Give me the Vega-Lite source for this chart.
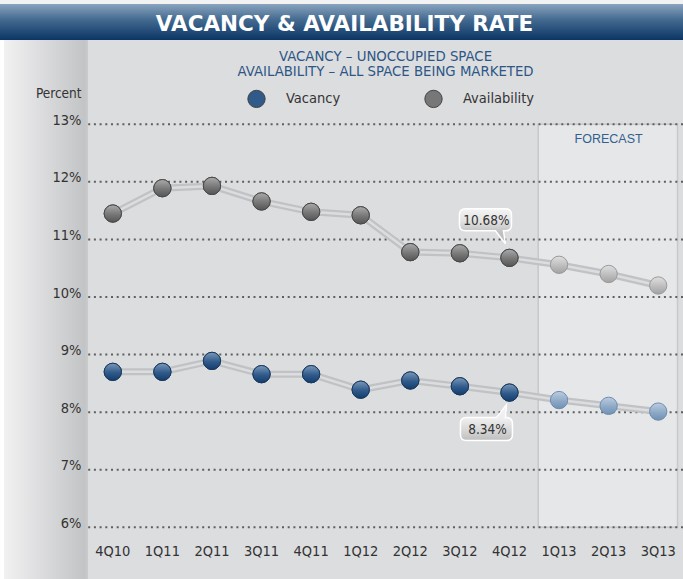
{
  "$schema": "https://vega.github.io/schema/vega-lite/v6.json",
  "padding": 0,
  "spacing": 0,
  "background": "#dcdddf",
  "config": {
    "view": {"stroke": null},
    "font": "Liberation Sans Narrow, DejaVu Sans Condensed, sans-serif"
  },
  "datasets": {
    "rates": [
      {"quarter": "4Q10", "series": "Vacancy", "rate": 8.70, "phase": "Actual"},
      {"quarter": "1Q11", "series": "Vacancy", "rate": 8.70, "phase": "Actual"},
      {"quarter": "2Q11", "series": "Vacancy", "rate": 8.89, "phase": "Actual"},
      {"quarter": "3Q11", "series": "Vacancy", "rate": 8.66, "phase": "Actual"},
      {"quarter": "4Q11", "series": "Vacancy", "rate": 8.66, "phase": "Actual"},
      {"quarter": "1Q12", "series": "Vacancy", "rate": 8.39, "phase": "Actual"},
      {"quarter": "2Q12", "series": "Vacancy", "rate": 8.55, "phase": "Actual"},
      {"quarter": "3Q12", "series": "Vacancy", "rate": 8.45, "phase": "Actual"},
      {"quarter": "4Q12", "series": "Vacancy", "rate": 8.34, "phase": "Actual"},
      {"quarter": "1Q13", "series": "Vacancy", "rate": 8.21, "phase": "Forecast"},
      {"quarter": "2Q13", "series": "Vacancy", "rate": 8.11, "phase": "Forecast"},
      {"quarter": "3Q13", "series": "Vacancy", "rate": 8.01, "phase": "Forecast"},
      {"quarter": "4Q10", "series": "Availability", "rate": 11.45, "phase": "Actual"},
      {"quarter": "1Q11", "series": "Availability", "rate": 11.89, "phase": "Actual"},
      {"quarter": "2Q11", "series": "Availability", "rate": 11.93, "phase": "Actual"},
      {"quarter": "3Q11", "series": "Availability", "rate": 11.66, "phase": "Actual"},
      {"quarter": "4Q11", "series": "Availability", "rate": 11.48, "phase": "Actual"},
      {"quarter": "1Q12", "series": "Availability", "rate": 11.42, "phase": "Actual"},
      {"quarter": "2Q12", "series": "Availability", "rate": 10.78, "phase": "Actual"},
      {"quarter": "3Q12", "series": "Availability", "rate": 10.76, "phase": "Actual"},
      {"quarter": "4Q12", "series": "Availability", "rate": 10.68, "phase": "Actual"},
      {"quarter": "1Q13", "series": "Availability", "rate": 10.56, "phase": "Forecast"},
      {"quarter": "2Q13", "series": "Availability", "rate": 10.40, "phase": "Forecast"},
      {"quarter": "3Q13", "series": "Availability", "rate": 10.20, "phase": "Forecast"}
    ],
    "callouts": [
      {"quarter": "4Q12", "series": "Availability", "rate": 10.68, "label": "10.68%"},
      {"quarter": "4Q12", "series": "Vacancy", "rate": 8.34, "label": "8.34%"}
    ],
    "gridlines": [
      {"pct": 6}, {"pct": 7}, {"pct": 8}, {"pct": 9}, {"pct": 10}, {"pct": 11}, {"pct": 12}, {"pct": 13}
    ],
    "forecast": [
      {"label": "FORECAST", "from": "1Q13", "to": "3Q13", "middle": "2Q13"}
    ],
    "header": [
      {"title": "VACANCY & AVAILABILITY RATE"}
    ]
  },
  "vconcat": [
    {
      "width": 683,
      "height": 40,
      "view": {
        "stroke": null,
        "fill": {
          "gradient": "linear", "x1": 0, "y1": 0, "x2": 0, "y2": 1,
          "stops": [
            {"offset": 0, "color": "#f2f2f2"},
            {"offset": 0.09, "color": "#f2f2f2"},
            {"offset": 0.1, "color": "#8aa4bf"},
            {"offset": 0.5, "color": "#42698f"},
            {"offset": 1, "color": "#0b3565"}
          ]
        }
      },
      "data": {"name": "header"},
      "mark": {"type": "text", "font": "DejaVu Sans, sans-serif", "fontWeight": "bold", "fontSize": 21.5, "fill": "#ffffff", "baseline": "alphabetic", "align": "center", "dy": 11, "dx": 3},
      "encoding": {"text": {"field": "title", "type": "nominal"}}
    },
    {
      "spacing": 0,
      "bounds": "flush",
      "hconcat": [
        {
          "width": 88,
          "height": 539,
          "view": {
            "stroke": null,
            "fill": {
              "gradient": "linear", "x1": 0, "y1": 0, "x2": 1, "y2": 0,
              "stops": [
                {"offset": 0, "color": "#ffffff"},
                {"offset": 0.045, "color": "#ffffff"},
                {"offset": 0.05, "color": "#f1f1f2"},
                {"offset": 0.96, "color": "#c3c4c6"},
                {"offset": 1, "color": "#cacbcd"}
              ]
            }
          },
          "data": {"values": [{}]},
          "mark": {"type": "text", "text": ""},
          "encoding": {}
        },
        {
          "width": 595,
          "height": 503,
          "title": {
            "text": ["VACANCY – UNOCCUPIED SPACE", "AVAILABILITY – ALL SPACE BEING MARKETED"],
            "anchor": "middle",
            "frame": "group",
            "offset": -38,
            "font": "DejaVu Sans, sans-serif",
            "fontSize": 13.3,
            "fontWeight": "normal",
            "color": "#2d5686",
            "lineHeight": 15
          },
          "layer": [
            {
              "data": {"name": "forecast"},
              "mark": {"type": "rect", "fill": "#e6e7e9", "stroke": "#c7c8ca", "strokeWidth": 1.5},
              "encoding": {
                "x": {"field": "from", "type": "nominal", "bandPosition": 0.08, "scale": {"type": "band", "domain": ["4Q10","1Q11","2Q11","3Q11","4Q11","1Q12","2Q12","3Q12","4Q12","1Q13","2Q13","3Q13"], "paddingInner": 0, "paddingOuter": 0}},
                "x2": {"field": "to", "bandPosition": 0.89},
                "y": {"datum": 6, "type": "quantitative", "scale": {"domain": [5.7273, 14.4643], "nice": false, "zero": false}},
                "y2": {"datum": 13}
              }
            },
            {
              "data": {"name": "forecast"},
              "mark": {"type": "text", "font": "Liberation Sans, Arial, sans-serif", "fontSize": 12.5, "fill": "#33608e", "baseline": "middle", "align": "center", "dy": 15},
              "encoding": {
                "x": {"field": "middle", "type": "nominal"},
                "y": {"datum": 13, "type": "quantitative"},
                "text": {"field": "label", "type": "nominal"}
              }
            },
            {
              "data": {"name": "gridlines"},
              "mark": {"type": "rule", "stroke": "#5f5f5f", "strokeWidth": 2, "strokeDash": [2, 3.7]},
              "encoding": {
                "y": {"field": "pct", "type": "quantitative"}
              }
            },
            {
              "data": {"name": "rates"},
              "mark": {"type": "line", "stroke": "#c1c2c4", "strokeWidth": 7, "strokeJoin": "round"},
              "encoding": {
                "x": {"field": "quarter", "type": "nominal", "sort": ["4Q10","1Q11","2Q11","3Q11","4Q11","1Q12","2Q12","3Q12","4Q12","1Q13","2Q13","3Q13"],
                  "axis": {"title": null, "orient": "bottom", "bandPosition": 0.5, "ticks": false, "tickSize": 0, "domain": false, "grid": false, "labelAngle": 0, "labelAlign": "center", "labelPadding": 12, "labelBaseline": "alphabetic", "labelFontSize": 14.5, "labelColor": "#333333"}},
                "y": {"field": "rate", "type": "quantitative",
                  "axis": {"title": "Percent", "values": [6, 7, 8, 9, 10, 11, 12, 13], "labelExpr": "datum.value + '%'", "ticks": false, "tickSize": 0, "domain": false, "grid": false, "labelPadding": 7, "labelBaseline": "alphabetic", "labelFontSize": 14.5, "labelColor": "#333333",
                    "titleAngle": 0, "titleAlign": "right", "titleBaseline": "alphabetic", "titleX": -7, "titleY": 57, "titleFontSize": 13.5, "titleFontWeight": "normal", "titleColor": "#333333"}},
                "detail": {"field": "series", "type": "nominal"}
              }
            },
            {
              "data": {"name": "rates"},
              "mark": {"type": "line", "stroke": "#dcdde0", "strokeWidth": 2.5, "strokeJoin": "round"},
              "encoding": {
                "x": {"field": "quarter", "type": "nominal", "sort": ["4Q10","1Q11","2Q11","3Q11","4Q11","1Q12","2Q12","3Q12","4Q12","1Q13","2Q13","3Q13"]},
                "y": {"field": "rate", "type": "quantitative"},
                "detail": {"field": "series", "type": "nominal"}
              }
            },
            {
              "data": {"name": "rates"},
              "transform": [{"filter": "datum.phase == 'Actual'"}],
              "mark": {"type": "point", "shape": "circle", "filled": true, "size": 300, "opacity": 1, "strokeWidth": 1, "stroke": "#444444"},
              "encoding": {
                "x": {"field": "quarter", "type": "nominal"},
                "y": {"field": "rate", "type": "quantitative"},
                "fill": {"field": "series", "type": "nominal",
                  "scale": {"domain": ["Vacancy", "Availability"], "range": ["#2f5a8a", "#777777"]},
                  "legend": {"title": null, "orient": "none", "legendX": 247, "legendY": 89, "direction": "horizontal", "columnPadding": 81, "labelOffset": 20, "padding": 0, "symbolType": "circle", "symbolSize": 300, "symbolStrokeWidth": 1, "symbolOpacity": 1, "labelFontSize": 14.5, "labelColor": "#333333",
                    "encode": {"symbols": {"update": {
                      "fill": [
                        {"test": "datum.value === 'Vacancy'", "value": {"gradient": "linear", "x1": 0, "y1": 0, "x2": 0, "y2": 1, "stops": [{"offset": 0, "color": "#7b98ba"}, {"offset": 0.55, "color": "#2f5a8a"}, {"offset": 1, "color": "#143d6c"}]}},
                        {"value": {"gradient": "linear", "x1": 0, "y1": 0, "x2": 0, "y2": 1, "stops": [{"offset": 0, "color": "#aaaaaa"}, {"offset": 0.55, "color": "#777777"}, {"offset": 1, "color": "#555555"}]}}
                      ],
                      "stroke": [
                        {"test": "datum.value === 'Vacancy'", "value": "#143a64"},
                        {"value": "#4a4a4a"}
                      ]
                    }}}}}
              }
            },
            {
              "data": {"name": "rates"},
              "transform": [{"filter": "datum.phase == 'Actual' && datum.series == 'Vacancy'"}],
              "mark": {"type": "point", "shape": "circle", "filled": true, "size": 300, "opacity": 1, "strokeWidth": 1, "stroke": "#143a64",
                "fill": {"gradient": "linear", "x1": 0, "y1": 0, "x2": 0, "y2": 1, "stops": [{"offset": 0, "color": "#7b98ba"}, {"offset": 0.55, "color": "#2f5a8a"}, {"offset": 1, "color": "#143d6c"}]}},
              "encoding": {
                "x": {"field": "quarter", "type": "nominal"},
                "y": {"field": "rate", "type": "quantitative"}
              }
            },
            {
              "data": {"name": "rates"},
              "transform": [{"filter": "datum.phase == 'Actual' && datum.series == 'Availability'"}],
              "mark": {"type": "point", "shape": "circle", "filled": true, "size": 300, "opacity": 1, "strokeWidth": 1, "stroke": "#4a4a4a",
                "fill": {"gradient": "linear", "x1": 0, "y1": 0, "x2": 0, "y2": 1, "stops": [{"offset": 0, "color": "#aaaaaa"}, {"offset": 0.55, "color": "#777777"}, {"offset": 1, "color": "#555555"}]}},
              "encoding": {
                "x": {"field": "quarter", "type": "nominal"},
                "y": {"field": "rate", "type": "quantitative"}
              }
            },
            {
              "data": {"name": "rates"},
              "transform": [{"filter": "datum.phase == 'Forecast' && datum.series == 'Vacancy'"}],
              "mark": {"type": "point", "shape": "circle", "filled": true, "size": 300, "opacity": 1, "strokeWidth": 1, "stroke": "#6d8cae",
                "fill": {"gradient": "linear", "x1": 0, "y1": 0, "x2": 0, "y2": 1, "stops": [{"offset": 0, "color": "#bccde0"}, {"offset": 0.55, "color": "#8ea9c7"}, {"offset": 1, "color": "#7090b3"}]}},
              "encoding": {
                "x": {"field": "quarter", "type": "nominal"},
                "y": {"field": "rate", "type": "quantitative"}
              }
            },
            {
              "data": {"name": "rates"},
              "transform": [{"filter": "datum.phase == 'Forecast' && datum.series == 'Availability'"}],
              "mark": {"type": "point", "shape": "circle", "filled": true, "size": 300, "opacity": 1, "strokeWidth": 1, "stroke": "#999999",
                "fill": {"gradient": "linear", "x1": 0, "y1": 0, "x2": 0, "y2": 1, "stops": [{"offset": 0, "color": "#e0e0e0"}, {"offset": 0.55, "color": "#bdbdbd"}, {"offset": 1, "color": "#a2a2a2"}]}},
              "encoding": {
                "x": {"field": "quarter", "type": "nominal"},
                "y": {"field": "rate", "type": "quantitative"}
              }
            },
            {
              "data": {"name": "callouts"},
              "transform": [{"filter": "datum.series == 'Availability'"}],
              "mark": {"type": "point", "filled": true, "opacity": 1, "size": 4, "stroke": "#ffffff", "strokeWidth": 1.5,
                "shape": "M -44,-49 L -4,-49 Q 2,-49 2,-43 L 2,-33 Q 2,-27 -4,-27 L -6,-27 L -4,-14 L -14,-27 L -44,-27 Q -50,-27 -50,-33 L -50,-43 Q -50,-49 -44,-49 Z",
                "fill": {"gradient": "linear", "x1": 0, "y1": 0, "x2": 0, "y2": 1, "stops": [{"offset": 0, "color": "#f4f4f4"}, {"offset": 0.35, "color": "#e2e2e2"}, {"offset": 0.65, "color": "#c2c2c2"}, {"offset": 1, "color": "#b8b8b8"}]}},
              "encoding": {
                "x": {"field": "quarter", "type": "nominal"},
                "y": {"field": "rate", "type": "quantitative"}
              }
            },
            {
              "data": {"name": "callouts"},
              "transform": [{"filter": "datum.series == 'Vacancy'"}],
              "mark": {"type": "point", "filled": true, "opacity": 1, "size": 4, "stroke": "#ffffff", "strokeWidth": 1.5,
                "shape": "M -43,25 L -13,25 L -3,12 L -4,25 L -3,25 Q 3,25 3,31 L 3,42 Q 3,48 -3,48 L -43,48 Q -49,48 -49,42 L -49,31 Q -49,25 -43,25 Z",
                "fill": {"gradient": "linear", "x1": 0, "y1": 0, "x2": 0, "y2": 1, "stops": [{"offset": 0, "color": "#f4f4f4"}, {"offset": 0.4, "color": "#eeeeee"}, {"offset": 0.75, "color": "#d4d4d4"}, {"offset": 1, "color": "#bdbdbd"}]}},
              "encoding": {
                "x": {"field": "quarter", "type": "nominal"},
                "y": {"field": "rate", "type": "quantitative"}
              }
            },
            {
              "data": {"name": "callouts"},
              "transform": [{"filter": "datum.series == 'Availability'"}],
              "mark": {"type": "text", "fontSize": 13.5, "fill": "#333333", "baseline": "middle", "align": "center", "dx": -23, "dy": -37},
              "encoding": {
                "x": {"field": "quarter", "type": "nominal"},
                "y": {"field": "rate", "type": "quantitative"},
                "text": {"field": "label", "type": "nominal"}
              }
            },
            {
              "data": {"name": "callouts"},
              "transform": [{"filter": "datum.series == 'Vacancy'"}],
              "mark": {"type": "text", "fontSize": 13.5, "fill": "#333333", "baseline": "middle", "align": "center", "dx": -22, "dy": 37},
              "encoding": {
                "x": {"field": "quarter", "type": "nominal"},
                "y": {"field": "rate", "type": "quantitative"},
                "text": {"field": "label", "type": "nominal"}
              }
            }
          ]
        }
      ]
    }
  ]
}
